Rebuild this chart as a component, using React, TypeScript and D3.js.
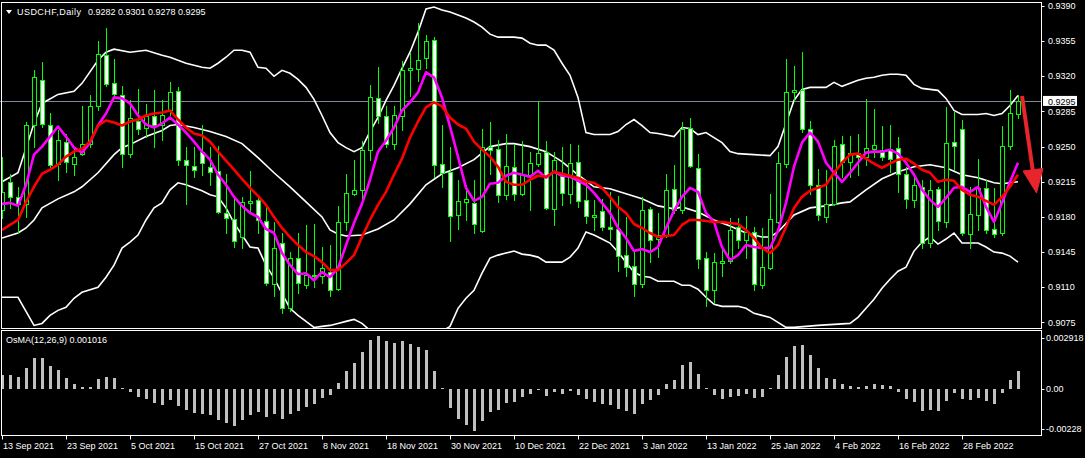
import * as d3 from "d3";

// USDCHF daily candles, 13 Sep 2021 .. 9 Mar 2022 (bar index = position)
const opens = [
  .9187, .9215, .9200, .9193, .9272, .9316, .9272, .9233, .9255, .9233,
  .9243, .9253, .9290, .9341, .9313, .9301, .9243, .9276, .9269, .9280,
  .9272, .9286, .9305, .9237, .9231, .9245, .9230, .9226, .9184, .9178,
  .9160, .9194, .9197, .9176, .9113, .9154, .9089, .9139, .9112, .9121,
  .9121, .9125, .9108, .9175, .9203, .9207, .9247, .9298, .9280, .9253,
  .9280, .9326, .9327, .9338, .9356, .9233, .9225, .9182, .9195, .9194,
  .9166, .9250, .9248, .9202, .9230, .9203, .9222, .9233, .9245, .9188,
  .9221, .9203, .9235, .9197, .9180, .9186, .9170, .9168, .9142, .9131,
  .9113, .9188, .9158, .9162, .9208, .9187, .9269, .9229, .9139, .9107,
  .9134, .9136, .9170, .9157, .9165, .9112, .9129, .9175, .9233, .9304,
  .9306, .9268, .9212, .9180, .9193, .9253, .9235, .9244, .9240, .9248,
  .9247, .9248, .9249, .9223, .9197, .9210, .9154, .9208, .9175, .9255,
  .9268, .9163, .9182, .9209, .9168, .9164, .9251, .9282,
];
const highs = [
  .9240, .9223, .9210, .9275, .9326, .9334, .9283, .9267, .9263, .9250,
  .9290, .9301, .9355, .9368, .9337, .9310, .9296, .9307, .9292, .9306,
  .9296, .9314, .9309, .9250, .9250, .9272, .9250, .9251, .9223, .9200,
  .9200, .9226, .9200, .9193, .9175, .9164, .9145, .9164, .9172, .9173,
  .9150, .9152, .9191, .9223, .9237, .9256, .9311, .9329, .9290, .9290,
  .9335, .9344, .9373, .9361, .9359, .9272, .9250, .9217, .9212, .9217,
  .9268, .9275, .9257, .9263, .9253, .9256, .9245, .9295, .9256, .9245,
  .9250, .9253, .9252, .9217, .9197, .9198, .9205, .9201, .9180, .9145,
  .9200, .9190, .9184, .9223, .9232, .9275, .9278, .9243, .9145, .9144,
  .9149, .9179, .9179, .9181, .9170, .9169, .9203, .9245, .9337, .9330,
  .9344, .9276, .9228, .9227, .9257, .9261, .9261, .9263, .9297, .9287,
  .9271, .9272, .9260, .9230, .9223, .9217, .9217, .9210, .9289, .9284,
  .9277, .9210, .9238, .9217, .9209, .9271, .9306, .9301,
];
const lows = [
  .9179, .9189, .9164, .9180, .9250, .9270, .9228, .9217, .9225, .9222,
  .9242, .9250, .9286, .9310, .9300, .9230, .9240, .9263, .9260, .9250,
  .9257, .9281, .9232, .9193, .9220, .9222, .9212, .9184, .9164, .9150,
  .9149, .9184, .9164, .9112, .9101, .9084, .9086, .9104, .9109, .9110,
  .9114, .9101, .9107, .9167, .9202, .9197, .9237, .9274, .9250, .9248,
  .9267, .9300, .9315, .9328, .9220, .9210, .9156, .9168, .9177, .9164,
  .9165, .9223, .9195, .9198, .9197, .9202, .9187, .9231, .9188, .9172,
  .9192, .9194, .9190, .9174, .9167, .9167, .9157, .9126, .9121, .9101,
  .9110, .9135, .9140, .9160, .9184, .9184, .9230, .9129, .9091, .9094,
  .9121, .9134, .9149, .9139, .9107, .9109, .9128, .9174, .9230, .9295,
  .9265, .9203, .9177, .9175, .9192, .9220, .9220, .9222, .9232, .9240,
  .9237, .9225, .9205, .9189, .9190, .9149, .9150, .9167, .9170, .9227,
  .9162, .9149, .9167, .9164, .9160, .9162, .9248, .9278,
];
const closes = [
  .9205, .9200, .9193, .9272, .9319, .9273, .9232, .9257, .9235, .9240,
  .9253, .9290, .9342, .9312, .9302, .9243, .9278, .9268, .9280, .9272,
  .9281, .9304, .9237, .9232, .9227, .9234, .9225, .9185, .9179, .9156,
  .9195, .9196, .9177, .9114, .9149, .9089, .9139, .9114, .9122, .9122,
  .9129, .9107, .9175, .9204, .9207, .9247, .9299, .9280, .9253, .9281,
  .9326, .9328, .9336, .9355, .9232, .9224, .9181, .9196, .9198, .9173,
  .9250, .9247, .9202, .9231, .9203, .9223, .9234, .9244, .9189, .9237,
  .9204, .9234, .9196, .9181, .9182, .9170, .9168, .9141, .9130, .9113,
  .9187, .9157, .9162, .9207, .9187, .9268, .9231, .9138, .9107, .9135,
  .9136, .9167, .9157, .9165, .9113, .9130, .9178, .9234, .9304, .9306,
  .9268, .9212, .9182, .9193, .9251, .9235, .9244, .9240, .9249, .9252,
  .9240, .9238, .9223, .9198, .9212, .9154, .9207, .9176, .9254, .9251,
  .9164, .9183, .9209, .9167, .9163, .9251, .9283, .9295,
];

// fast moving average (magenta)
const fastMA = [
  .9193, .9194, .9191, .9212, .9242, .9250, .9260, .9270, .9260, .9249,
  .9244, .9254, .9271, .9283, .9299, .9298, .9293, .9281, .9272, .9269,
  .9273, .9279, .9272, .9264, .9255, .9245, .9237, .9222, .9212, .9200,
  .9191, .9184, .9180, .9168, .9164, .9144, .9132, .9123, .9124, .9117,
  .9125, .9120, .9129, .9152, .9174, .9193, .9217, .9245, .9256, .9269,
  .9286, .9294, .9304, .9324, .9319, .9299, .9270, .9240, .9209, .9196,
  .9200, .9213, .9214, .9221, .9224, .9222, .9220, .9226, .9219, .9225,
  .9221, .9220, .9216, .9212, .9204, .9194, .9184, .9169, .9159, .9146,
  .9148, .9145, .9150, .9169, .9186, .9200, .9209, .9205, .9184, .9175,
  .9150, .9137, .9142, .9152, .9150, .9149, .9149, .9166, .9194, .9230,
  .9254, .9264, .9255, .9234, .9224, .9215, .9224, .9234, .9244, .9245,
  .9245, .9247, .9243, .9234, .9222, .9207, .9197, .9190, .9199, .9209,
  .9210, .9205, .9210, .9190, .9175, .9194, .9215, .9234,
];
// slow moving average (red)
const slowMA = [
  .9167, .9172, .9177, .9195, .9210, .9223, .9227, .9232, .9240, .9245,
  .9248, .9255, .9271, .9276, .9274, .9271, .9275, .9277, .9281, .9283,
  .9284, .9286, .9277, .9269, .9263, .9261, .9255, .9245, .9236, .9227,
  .9218, .9209, .9201, .9192, .9180, .9169, .9160, .9152, .9145, .9141,
  .9135, .9127, .9127, .9134, .9142, .9160, .9177, .9192, .9205, .9222,
  .9238, .9259, .9275, .9289, .9294, .9290, .9279, .9272, .9268, .9255,
  .9247, .9240, .9230, .9215, .9212, .9212, .9217, .9221, .9220, .9225,
  .9223, .9221, .9219, .9215, .9214, .9209, .9200, .9190, .9184, .9173,
  .9169, .9164, .9160, .9161, .9162, .9172, .9177, .9177, .9176, .9175,
  .9175, .9174, .9173, .9167, .9159, .9149, .9144, .9152, .9170, .9189,
  .9200, .9206, .9209, .9212, .9224, .9234, .9242, .9243, .9238, .9233,
  .9229, .9233, .9237, .9238, .9233, .9227, .9224, .9215, .9217, .9216,
  .9207, .9202, .9200, .9196, .9192, .9200, .9210, .9222,
];

// Bollinger bands, read as [bar, price]
const upperBand: [number, number][] = [
  [0, .9215], [2, .9224], [4, .9273], [5, .9293], [7, .9302], [9, .9305], [10, .9313], [12, .9336],
  [13, .9344], [14, .9347], [16, .9344], [17, .9345], [18, .9346], [20, .9341], [21, .9339], [23, .9333],
  [25, .9329], [26, .9328], [27, .9333], [28, .9339], [29, .9346], [30, .9346], [31, .9344], [32, .9329],
  [33, .9328], [34, .9320], [35, .9326], [36, .9323], [37, .9317], [38, .9309], [39, .9297], [40, .9281],
  [41, .9264], [42, .9254], [43, .9249], [44, .9245], [45, .9249], [46, .9265], [47, .9279], [48, .9296],
  [49, .9311], [50, .9328], [51, .9344], [52, .9364], [53, .9387], [54, .9389], [55, .9386], [56, .9384],
  [57, .9381], [58, .9378], [59, .9374], [60, .9369], [61, .9362], [62, .9359], [64, .9359], [65, .9358],
  [66, .9353], [67, .9351], [68, .9351], [69, .9346], [70, .9333], [71, .9321], [72, .9299], [73, .9264],
  [74, .9262], [76, .9262], [77, .9265], [78, .9272], [79, .9277], [80, .9271], [81, .9264], [82, .9263],
  [84, .9260], [85, .9269], [86, .9268], [87, .9262], [88, .9264], [89, .9259], [90, .9254], [91, .9245],
  [92, .9243], [94, .9242], [96, .9241], [97, .9250], [98, .9273], [99, .9296], [100, .9307], [101, .9309],
  [103, .9309], [104, .9314], [105, .9310], [106, .9313], [107, .9316], [108, .9318], [109, .9319], [110, .9321],
  [111, .9322], [112, .9322], [113, .9321], [114, .9312], [115, .9308], [116, .9307], [117, .9306], [118, .9298],
  [119, .9286], [120, .9282], [122, .9282], [123, .9283], [124, .9281], [125, .9283], [126, .9291], [127, .9301],
];
const middleBand: [number, number][] = [
  [0, .9159], [2, .9164], [3, .9169], [4, .9177], [5, .9189], [7, .9198], [9, .9205], [10, .9210],
  [12, .9224], [14, .9242], [15, .9249], [16, .9252], [18, .9260], [20, .9266], [21, .9271], [22, .9272],
  [24, .9269], [26, .9265], [28, .9260], [30, .9253], [32, .9239], [34, .9224], [36, .9210], [38, .9195],
  [40, .9180], [41, .9167], [42, .9163], [43, .9161], [45, .9162], [47, .9168], [49, .9177], [51, .9193],
  [53, .9212], [55, .9223], [57, .9229], [59, .9237], [61, .9250], [63, .9253], [64, .9253], [66, .9250],
  [68, .9245], [70, .9235], [72, .9222], [74, .9210], [76, .9208], [78, .9203], [80, .9198], [82, .9191],
  [84, .9188], [85, .9190], [87, .9185], [89, .9177], [91, .9171], [93, .9164], [95, .9160], [96, .9160],
  [97, .9165], [99, .9182], [101, .9189], [103, .9191], [105, .9194], [106, .9195], [108, .9207], [110, .9218],
  [112, .9225], [114, .9230], [116, .9232], [118, .9229], [120, .9222], [122, .9219], [124, .9214], [125, .9213],
  [127, .9215],
];
const lowerBand: [number, number][] = [
  [0, .9100], [2, .9100], [3, .9086], [4, .9072], [5, .9074], [6, .9082], [7, .9087], [8, .9090],
  [9, .9099], [10, .9105], [12, .9110], [13, .9120], [14, .9132], [15, .9149], [16, .9155], [17, .9162],
  [18, .9177], [19, .9189], [20, .9194], [21, .9207], [22, .9214], [23, .9212], [24, .9209], [25, .9206],
  [26, .9202], [27, .9200], [28, .9189], [29, .9174], [30, .9162], [31, .9150], [32, .9149], [33, .9132],
  [34, .9119], [35, .9104], [36, .9089], [37, .9082], [38, .9076], [39, .9070], [40, .9071], [41, .9072],
  [42, .9074], [43, .9076], [44, .9078], [45, .9074], [46, .9067], [47, .9057], [48, .9047], [49, .9041],
  [50, .9039], [51, .9041], [52, .9047], [53, .9054], [54, .9061], [55, .9066], [56, .9071], [57, .9089],
  [58, .9099], [59, .9107], [60, .9124], [61, .9139], [62, .9142], [63, .9144], [64, .9146], [65, .9143],
  [66, .9142], [67, .9140], [68, .9135], [70, .9135], [71, .9140], [72, .9149], [73, .9165], [74, .9162],
  [75, .9158], [76, .9154], [77, .9145], [78, .9135], [79, .9125], [80, .9121], [81, .9120], [82, .9116],
  [84, .9116], [85, .9112], [86, .9112], [87, .9108], [88, .9100], [89, .9093], [90, .9091], [92, .9091],
  [93, .9089], [94, .9084], [95, .9082], [96, .9080], [97, .9075], [98, .9070], [99, .9070], [102, .9072],
  [106, .9074], [107, .9080], [108, .9089], [109, .9098], [110, .9109], [111, .9118], [112, .9126], [113, .9130],
  [114, .9146], [115, .9155], [116, .9160], [117, .9153], [118, .9158], [119, .9164], [120, .9154], [122, .9154],
  [123, .9150], [124, .9145], [125, .9144], [126, .9141], [127, .9135],
];

// OsMA(12,26,9) histogram
const osma = [
  .00082, .00082, .00069, .00120, .00177, .00177, .00133, .00111, .00063, .00031,
  .00010, .00011, .00059, .00069, .00063, .00006, -.00019, -.00046, -.00055, -.00080,
  -.00090, -.00061, -.00095, -.00118, -.00137, -.00143, -.00151, -.00175, -.00195, -.00210,
  -.00175, -.00147, -.00132, -.00160, -.00143, -.00170, -.00143, -.00128, -.00105, -.00084,
  -.00051, -.00036, .00034, .00105, .00149, .00212, .00278, .00303, .00273, .00263,
  .00273, .00257, .00238, .00223, .00105, .00006, -.00109, -.00170, -.00204, -.00238,
  -.00181, -.00132, -.00118, -.00080, -.00072, -.00048, -.00029, -.00006, -.00038, -.00019,
  -.00029, -.00010, -.00032, -.00055, -.00074, -.00086, -.00090, -.00114, -.00124, -.00143,
  -.00086, -.00061, -.00032, .00029, .00051, .00139, .00154, .00086, .00006, -.00032,
  -.00055, -.00044, -.00038, -.00029, -.00051, -.00046, .00006, .00082, .00183, .00248,
  .00254, .00196, .00120, .00063, .00057, .00029, .00015, .00011, .00017, .00029,
  .00025, .00019, -.00019, -.00055, -.00074, -.00128, -.00118, -.00128, -.00067, -.00023,
  -.00057, -.00061, -.00051, -.00067, -.00086, -.00023, .00053, .001016,
];

const dateTicks: [number, string][] = [
  [0, "13 Sep 2021"], [8, "23 Sep 2021"], [16, "5 Oct 2021"], [24, "15 Oct 2021"],
  [32, "27 Oct 2021"], [40, "8 Nov 2021"], [48, "18 Nov 2021"], [56, "30 Nov 2021"],
  [64, "10 Dec 2021"], [72, "22 Dec 2021"], [80, "3 Jan 2022"], [88, "13 Jan 2022"],
  [96, "25 Jan 2022"], [104, "4 Feb 2022"], [112, "16 Feb 2022"], [120, "28 Feb 2022"],
];
const priceTicks = [0.9390, 0.9355, 0.9320, 0.9285, 0.9250, 0.9215, 0.9180, 0.9145, 0.9110, 0.9075];
const osmaTicks: [number, string][] = [[0.002918, "0.002918"], [0, "0.00"], [-0.002281, "-0.00228"]];
const lastPrice = 0.9295;
const symbolLabel = "USDCHF,Daily";
const headerValues = "0.9282 0.9301 0.9278 0.9295";
const osmaLabel = "OsMA(12,26,9) 0.001016";

const font = "Tahoma, 'Liberation Sans', Arial, sans-serif";

export default function App() {
  const width = 1085;
  const height = 458;
  const left = 1.5;
  const right = 1041.5;
  const mainTop = 2.5;
  const mainBottom = 328.5;
  const oscTop = 329.5;
  const oscBottom = 435.5;

  const x = d3.scaleLinear().domain([0, 127]).range([2, 1018]);
  const y = d3.scaleLinear().domain([0.9075, 0.9390]).range([322.4, 6]);
  const yo = d3.scaleLinear().domain([-0.002281, 0.002918]).range([428.8, 338]);

  const pairLine = d3.line<[number, number]>().x(d => x(d[0])).y(d => y(d[1]));
  const seriesLine = d3.line<number>().x((_, i) => x(i)).y(d => y(d));
  const fmt = d3.format(".4f");
  const green = "#00ff00";

  return (
    <svg width={width} height={height} style={{ position: "fixed", left: 0, top: 0, background: "#000" }}>
      <defs>
        <clipPath id="mainClip"><rect x={2} y={3} width={1039} height={325} /></clipPath>
        <clipPath id="oscClip"><rect x={2} y={330} width={1039} height={105} /></clipPath>
      </defs>
      <rect width={width} height={height} fill="#000" />

      {/* current price line */}
      <line x1={0} x2={right} y1={Math.round(y(lastPrice)) + 0.5} y2={Math.round(y(lastPrice)) + 0.5} stroke="#778899" />

      <g clipPath="url(#mainClip)">
        <path d={pairLine(upperBand)!} fill="none" stroke="#fff" strokeWidth={1.6} />
        <path d={pairLine(middleBand)!} fill="none" stroke="#fff" strokeWidth={1.6} />
        <path d={pairLine(lowerBand)!} fill="none" stroke="#fff" strokeWidth={1.6} />

        <g shapeRendering="crispEdges">
          {closes.map((c, i) => {
            const o = opens[i];
            const cx = x(i);
            const top = Math.round(y(Math.max(o, c)));
            const bot = Math.round(y(Math.min(o, c)));
            const bull = c > o;
            return (
              <g key={i}>
                <line x1={cx + 0.5} x2={cx + 0.5} y1={Math.round(y(highs[i]))} y2={Math.round(y(lows[i])) + 1} stroke={green} />
                {bot - top < 1 ? (
                  <line x1={cx - 2} x2={cx + 3} y1={top + 0.5} y2={top + 0.5} stroke={green} />
                ) : (
                  <rect x={cx - 1.5} y={top + 0.5} width={4} height={bot - top} fill={bull ? "#000" : "#fff"} stroke={green} />
                )}
              </g>
            );
          })}
        </g>

        <path d={seriesLine(fastMA)!} fill="none" stroke="#ff00ff" strokeWidth={2.6} strokeLinejoin="round" />
        <path d={seriesLine(slowMA)!} fill="none" stroke="#ff0000" strokeWidth={2.6} strokeLinejoin="round" />
      </g>

      {/* OsMA histogram */}
      <g clipPath="url(#oscClip)" shapeRendering="crispEdges">
        {osma.map((v, i) => {
          const y0 = yo(0);
          const y1 = yo(v);
          return (
            <rect key={i} x={x(i) - 1} y={Math.min(y0, y1)} width={3} height={Math.max(1, Math.abs(y1 - y0))} fill="#c0c0c0" />
          );
        })}
      </g>

      {/* frames */}
      <g fill="none" stroke="#fff" shapeRendering="crispEdges">
        <rect x={left} y={mainTop} width={right - left} height={mainBottom - mainTop} />
        <rect x={left} y={oscTop + 1} width={right - left} height={oscBottom - oscTop - 1} />
      </g>

      {/* price axis */}
      <g fontFamily={font} fontSize={9} fill="#fff">
        {priceTicks.map(p => (
          <g key={p}>
            <line x1={right} x2={right + 3} y1={Math.round(y(p)) + 0.5} y2={Math.round(y(p)) + 0.5} stroke="#fff" />
            <text x={1048} y={y(p)} dy="0.35em">{fmt(p)}</text>
          </g>
        ))}
        <rect x={1043} y={y(lastPrice) - 5.5} width={34} height={10} fill="#fff" />
        <text x={1048} y={y(lastPrice)} dy="0.35em" fill="#000">{fmt(lastPrice)}</text>

        {osmaTicks.map(([v, label]) => (
          <g key={label}>
            <line x1={right} x2={right + 3} y1={Math.round(yo(v)) + 0.5} y2={Math.round(yo(v)) + 0.5} stroke="#fff" />
            <text x={1046} y={yo(v)} dy="0.35em">{label}</text>
          </g>
        ))}

        {dateTicks.map(([i, label]) => (
          <g key={label}>
            <line x1={x(i) + 0.5} x2={x(i) + 0.5} y1={oscBottom} y2={oscBottom + 4} stroke="#fff" />
            <text x={x(i) + 1} y={448.5}>{label}</text>
          </g>
        ))}

        {/* headers */}
        <path d="M6,10 L12,10 L9,14 Z" fill="#fff" />
        <text x={17} y={12} dy="0.35em" textLength={64}>{symbolLabel}</text>
        <text x={88} y={12} dy="0.35em">{headerValues}</text>
        <text x={6} y={340} dy="0.35em">{osmaLabel}</text>
      </g>

      {/* red arrow annotation */}
      <g fill="#e8242c" stroke="#e8242c">
        <line x1={1022} y1={96} x2={1033} y2={172} strokeWidth={4} />
        <path d="M1023,171 L1043,168.5 L1036.5,193 Z" strokeWidth={1} />
      </g>
    </svg>
  );
}
